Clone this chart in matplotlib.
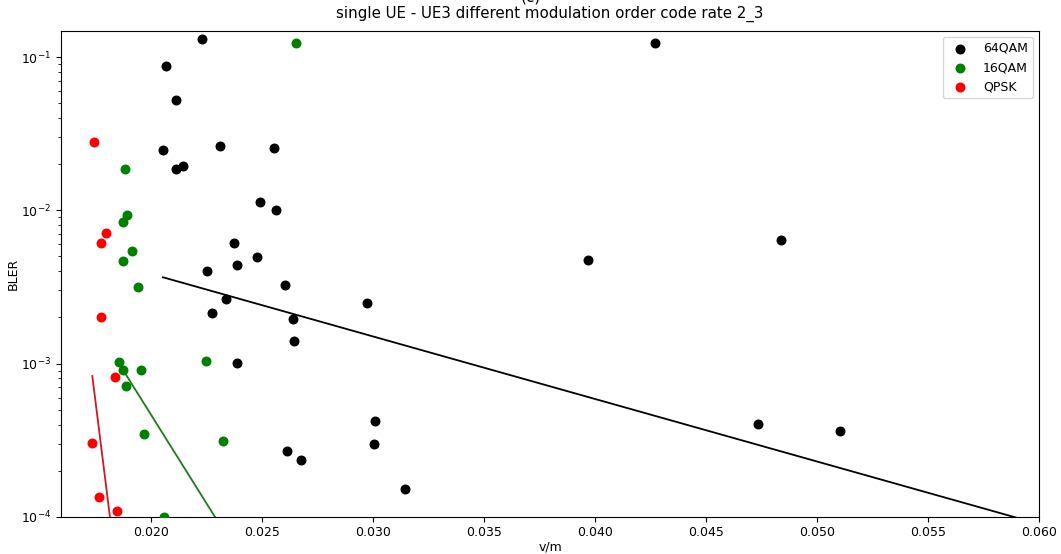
import numpy as np
import matplotlib
matplotlib.use("Agg")
import matplotlib.pyplot as plt

# BLER measurements against v/m for each modulation order
qam64_x = [0.02232, 0.04269, 0.02069, 0.02111, 0.02054, 0.02313, 0.02554, 0.02114,
           0.02144, 0.02491, 0.02565, 0.02373, 0.04839, 0.02476, 0.02388, 0.03968,
           0.02251, 0.02606, 0.02336, 0.02973, 0.02273, 0.02640, 0.02644, 0.02388,
           0.03008, 0.04734, 0.05102, 0.03003, 0.02613, 0.02674, 0.03146]
qam64_y = [0.1317, 0.1240, 0.0877, 0.0524, 0.0248, 0.0262, 0.0256, 0.01865,
           0.0195, 0.0113, 0.01009, 0.00616, 0.00638, 0.00494, 0.00440, 0.00475,
           0.00404, 0.00324, 0.00265, 0.00247, 0.00213, 0.00195, 0.00141, 0.00101,
           0.00042, 0.000401, 0.000361, 0.000298, 0.000270, 0.000235, 0.000152]

qam16_x = [0.02653, 0.01884, 0.01893, 0.01876, 0.01914, 0.01876, 0.01940, 0.01858,
           0.02247, 0.01873, 0.01954, 0.01888, 0.01970, 0.02324, 0.02061]
qam16_y = [0.1245, 0.01865, 0.00929, 0.00838, 0.00546, 0.00469, 0.00317, 0.001016,
           0.00104, 0.000908, 0.000908, 0.000716, 0.000345, 0.000312, 0.000100]

qpsk_x = [0.01743, 0.01799, 0.01776, 0.01773, 0.01836, 0.01736, 0.01766, 0.01845]
qpsk_y = [0.0281, 0.00712, 0.00608, 0.00200, 0.000817, 0.000304, 0.000134, 0.000109]

# Trend lines: log10(BLER) = intercept + slope * x
qam64_fit = (-1.598, -40.83)
qam16_fit = (1.299, -231.6)
qpsk_fit = (17.03, -1158.5)

labels = ["64QAM", "16QAM", "QPSK"]
colors = ["black", "green", "red"]
line_colors = ["black", "#1f7a1f", "#cc1a24"]

plt.rcParams["font.family"] = "DejaVu Sans"
plt.rcParams["font.size"] = 9

fig = plt.figure(figsize=(10.61, 5.54), dpi=100)
ax = fig.add_axes([0.0575, 0.0673, 0.9218, 0.8773])

series = [(qam64_x, qam64_y, qam64_fit),
          (qam16_x, qam16_y, qam16_fit),
          (qpsk_x, qpsk_y, qpsk_fit)]

x_end = 0.060
for (xs, ys, (a, b)), lab, col, lcol in zip(series, labels, colors, line_colors):
    ax.scatter(xs, ys, s=38, color=col, label=lab, zorder=3)
    xt = np.linspace(min(xs), x_end, 200)
    ax.plot(xt, 10 ** (a + b * xt), color=lcol, linewidth=1.3, zorder=2)

ax.set_yscale("log")
ax.set_xlim(0.01595, 0.060)
ax.set_ylim(1e-4, 0.149)
ax.set_xticks(np.arange(0.020, 0.0601, 0.005))
ax.set_xlabel("v/m", labelpad=1)
ax.set_ylabel("BLER", labelpad=1)
ax.set_title("single UE - UE3 different modulation order code rate 2_3", pad=9)
ax.legend(loc="upper right")

# Panel tag sitting at the very top edge of the figure
fig.text(0.5, 1.0 - 1.5 / 554, "(c)", ha="center", va="baseline", fontsize=11)

fig.savefig("out.png", dpi=100)
